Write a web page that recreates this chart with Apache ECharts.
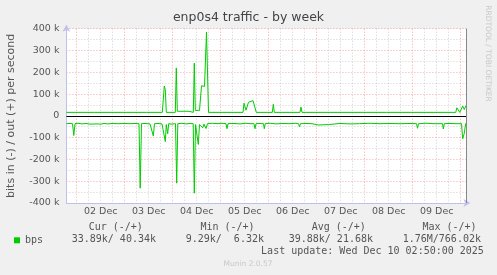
<!DOCTYPE html>
<html><head><meta charset="utf-8">
<script src="https://cdn.jsdelivr.net/npm/echarts@6/dist/echarts.min.js"></script>
<style>html,body{margin:0;padding:0;background:#f0f0f0}#c{width:497px;height:275px}</style>
</head><body><div id="c"></div>
<script>
// x unit: half-hour slots since 2025-12-01 00:00 (Munin week graph: 30 min per step)
const xStart = 37.7, xEnd = 437.7;
const gridSlots = [48,60,72,84,96,108,120,132,144,156,168,180,192,204,216,228,240,252,264,276,288,300,312,324,336,348,360,372,384,396,408,420,432];
const labelSlots = [72,120,168,216,264,312,360,408];
const dayLabels = ['02 Dec','03 Dec','04 Dec','05 Dec','06 Dec','07 Dec','08 Dec','09 Dec'];

// out (+), kbit/s
const outKbps = [
 [37.7,16],[65.6,16],[66.6,18],[67.6,16],[118,16],[119,18],[120,16],
 [133.6,16],[135.6,137],[136.6,120],[137.6,16],[146.6,16],[147.6,220],[148.6,21],
 [160.3,21],[161.1,16],[164.6,16],[165.6,242],[166.6,25],[170.8,25],[172.8,138],
 [175.8,135],[177.8,385],[179.8,16],[214.3,16],[215.3,58],[217.3,26],[219.8,62],
 [224.3,70],[226.3,73],[227.6,16],[243.6,16],[244.6,53],[245.6,16],[271.3,16],
 [272.3,40],[273.3,16],[358,16],[358.6,18],[359.3,16],[406.3,16],[407,18],[407.8,16],
 [427.1,16],[428.1,37],[429.3,30],[431.1,16],[433.1,16],[434,45],[435.6,29],[437,45],[437.7,40]
];
// in (-), kbit/s
const inKbps = [
 [37.7,-36],[41.3,-35],[43.8,-36],[45.1,-90],[46.3,-36],[49.3,-34],[53.3,-37],[57.3,-35],
 [61.3,-38],[63.3,-34],[67.3,-37],[69.3,-34],[72.3,-38],[75.3,-35],[79.3,-37],[83.3,-35],
 [89.3,-36],[95.3,-35],[101.3,-36],[106.3,-35],[110.3,-36],[111.5,-332],[112.8,-36],
 [116.3,-35],[121.3,-37],[123.3,-36],[124.6,-92],[125.8,-36],[129.3,-35],[133.3,-37],
 [134.8,-40],[136.6,-118],[137.6,-40],[139,-82],[140,-36],[142.3,-38],[146.8,-36],
 [148,-309],[149.1,-36],[153.3,-34],[157.3,-37],[161.3,-35],[164.5,-36],[165.6,-355],
 [166.8,-40],[168.3,-40],[169.6,-131],[170.8,-40],[172.3,-45],[174,-55],[175.3,-38],
 [177.3,-58],[178.8,-36],[183.3,-34],[189.3,-36],[193.3,-34],[197.3,-36],[198.3,-59],
 [199.3,-36],[205.3,-35],[211.3,-37],[217.3,-34],[221.3,-36],[225.3,-36],[226.3,-59],
 [227.3,-36],[231.3,-35],[234.8,-36],[235.6,-59],[236.5,-36],[241.3,-34],[247.3,-37],
 [253.3,-35],[261.3,-36],[267.3,-34],[269.8,-36],[270.8,-50],[271.8,-36],[277.3,-35],
 [283.3,-36],[289.6,-42],[291.3,-35],[299.6,-40],[301.3,-36],[311.3,-35],[321.3,-37],
 [330.6,-36],[331.3,-43],[332.3,-36],[341.3,-34],[351.3,-36],[361.3,-35],[371.3,-36],
 [381.3,-35],[387.8,-36],[388.8,-57],[389.8,-36],[397.3,-34],[406.3,-36],[413.8,-36],
 [414.6,-60],[415.6,-36],[421.3,-35],[427.3,-36],[432.8,-36],[434,-105],[435.6,-80],
 [436.9,-36],[437.7,-34]
];

const legendHeaders = ['Cur (-/+)','Min (-/+)','Avg (-/+)','Max (-/+)'];
const legendValues = ['33.89k/ 40.34k','9.29k/  6.32k','39.88k/ 21.68k','1.76M/766.02k'];
const lastUpdate = 'Last update: Wed Dec 10 02:50:00 2025';

const MAJ = 'rgba(240,110,110,0.6)', MIN = 'rgba(150,150,150,0.45)';
const mono = '"DejaVu Sans Mono", monospace';
const sans = '"DejaVu Sans", sans-serif';
const hdrX = [88.7,200.4,311.7,422.4];
const valX = [71.7,185.7,288.7,402.7];

const g = [];
legendHeaders.forEach((t,i)=>g.push({type:'text',x:hdrX[i],y:227.7,style:{text:t,font:'10px '+mono,fill:'#555',textAlign:'left',textVerticalAlign:'middle',align:'left',verticalAlign:'middle'}}));
legendValues.forEach((t,i)=>g.push({type:'text',x:valX[i],y:239.3,style:{text:t,font:'10px '+mono,fill:'#555',textAlign:'left',textVerticalAlign:'middle',align:'left',verticalAlign:'middle'}}));
g.push({type:'text',x:261.1,y:251,style:{text:lastUpdate,font:'10px '+mono,fill:'#555',textAlign:'left',textVerticalAlign:'middle',align:'left',verticalAlign:'middle'}});
g.push({type:'text',x:248,y:264,style:{text:'Munin 2.0.57',font:'7.5px '+sans,fill:'#c8c8c8',textAlign:'center',textVerticalAlign:'middle',align:'center',verticalAlign:'middle'}});
g.push({type:'text',x:487.7,y:53.5,rotation:-Math.PI/2,style:{text:'RRDTOOL / TOBI OETIKER',font:'7.5px '+sans,fill:'#c8c8c8',textAlign:'center',textVerticalAlign:'middle',align:'center',verticalAlign:'middle'}});

const chart = echarts.init(document.getElementById('c'), null, {renderer:'canvas'});
chart.setOption({
  animation:false,
  backgroundColor:'#f0f0f0',
  title:{text:'enp0s4 traffic - by week',left:'center',top:11,padding:0,
    textStyle:{fontFamily:sans,fontSize:12.5,fontWeight:'normal',color:'#444',lineHeight:14}},
  legend:{data:['bps'],left:14,top:234.3,padding:0,icon:'rect',itemWidth:6,itemHeight:6,
    textStyle:{fontFamily:mono,fontSize:10,color:'#555',lineHeight:12}},
  grid:{left:66.4,right:497-466.4,top:28.7,bottom:72,show:true,backgroundColor:'#fff',borderWidth:0,
    containLabel:false,outerBoundsMode:'none'},
  xAxis:{type:'value',min:xStart,max:xEnd,
    axisLine:{show:true,onZero:false,lineStyle:{color:'#c0c0ec',width:1},symbol:['none','arrow'],symbolSize:[6,7],symbolOffset:[0,4]},
    axisTick:{show:false,customValues:gridSlots},
    axisLabel:{customValues:labelSlots,margin:4,fontFamily:sans,fontSize:9.5,color:'#555',
      formatter:v=>dayLabels[labelSlots.indexOf(Math.round(v))]||''},
    splitLine:{show:true,lineStyle:{color:[MAJ,MIN,MIN,MIN],width:1,type:[1,2]}}},
  yAxis:{type:'value',min:-400,max:400,interval:50,
    name:'bits in (-) / out (+) per second',nameLocation:'middle',nameRotate:90,nameGap:49.5,
    nameTextStyle:{fontFamily:sans,fontSize:11,color:'#555'},
    axisLine:{show:true,onZero:false,lineStyle:{color:'#c0c0ec',width:1},symbol:['none','arrow'],symbolSize:[6,7],symbolOffset:[0,4]},
    axisTick:{show:false},
    axisLabel:{margin:7,fontFamily:sans,fontSize:9.5,color:'#555',
      formatter:v=>(Math.round(v)%100!==0)?'':(v===0?'0':v+' k')},
    splitLine:{show:true,lineStyle:{color:[MAJ,MIN],width:1,type:[1,2]}}},
  series:[
    {type:'line',name:'bps',data:outKbps,symbol:'none',showSymbol:false,z:3,
      lineStyle:{color:'#00cc00',width:1},itemStyle:{color:'#00cc00'},
      markLine:{silent:true,symbol:'none',label:{show:false},animation:false,
        data:[{yAxis:0,lineStyle:{color:'#000',width:1,type:'solid'}},
              {xAxis:437.3,lineStyle:{color:'#888',width:1,type:'solid'}}]}},
    {type:'line',name:'bps',data:inKbps,symbol:'none',showSymbol:false,z:3,
      lineStyle:{color:'#00cc00',width:1},itemStyle:{color:'#00cc00'}}
  ],
  graphic:g
});
</script></body></html>
